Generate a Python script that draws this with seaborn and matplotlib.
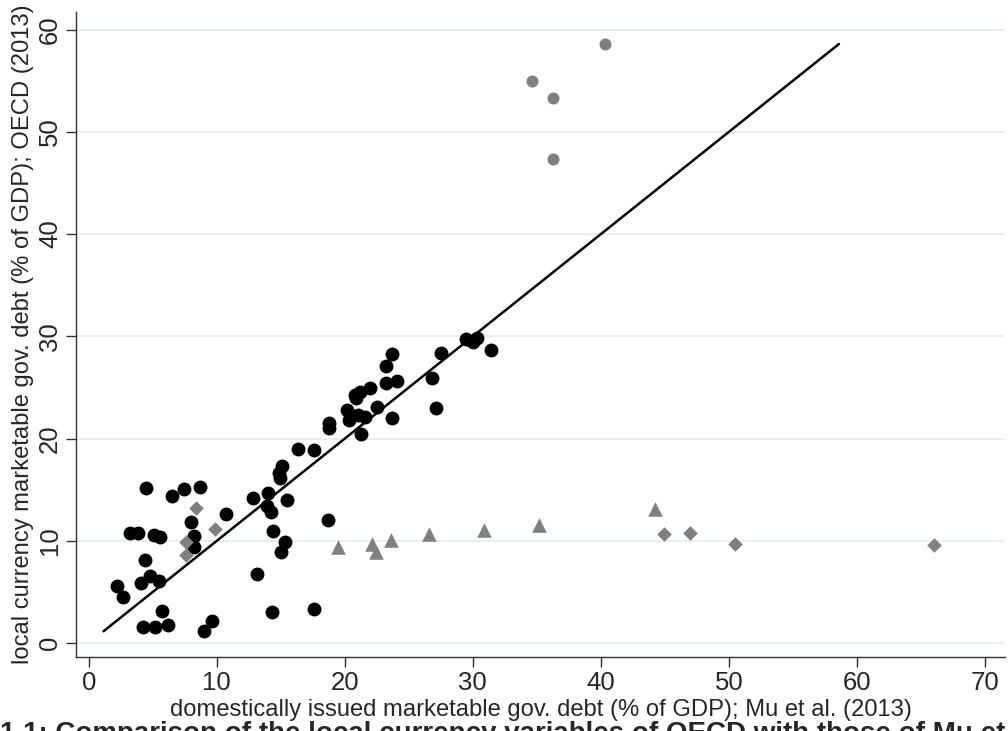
import numpy as np
import pandas as pd
import seaborn as sns
import matplotlib
matplotlib.use("Agg")
import matplotlib.pyplot as plt

# ---- data ----
black_x = [2.2, 2.7, 3.2, 3.85, 4.1, 4.4, 4.45, 4.8, 5.1, 5.55, 5.45, 5.7, 4.2, 5.2, 6.2,
           6.5, 7.45, 8.0, 8.2, 8.2, 8.7, 9.0, 9.6, 10.7, 12.8, 13.1, 13.9, 14.0, 14.2, 14.3,
           14.4, 14.85, 14.9, 15.0, 15.1, 15.3, 15.5, 16.35, 17.6, 17.6, 18.7, 18.8, 18.8,
           20.2, 20.3, 20.8, 20.9, 21.0, 21.2, 21.25, 21.6, 21.95, 22.55, 23.2, 23.25, 23.7,
           23.7, 24.1, 26.8, 27.1, 27.5, 29.5, 30.0, 30.3, 31.4]
black_y = [5.6, 4.5, 10.8, 10.8, 5.9, 8.1, 15.2, 6.6, 10.6, 10.4, 6.1, 3.1, 1.6, 1.6, 1.8,
           14.4, 15.05, 11.8, 10.45, 9.4, 15.25, 1.15, 2.15, 12.6, 14.2, 6.8, 13.4, 14.7, 12.8, 3.0,
           11.0, 16.6, 16.1, 8.9, 17.3, 9.9, 14.0, 19.0, 18.9, 3.3, 12.0, 21.5, 21.05,
           22.8, 21.8, 24.3, 24.0, 22.3, 24.6, 20.4, 22.1, 24.9, 23.1, 25.4, 27.1, 28.3,
           22.0, 25.6, 25.9, 23.0, 28.4, 29.7, 29.4, 29.8, 28.7]

gray_circle_x = [40.3, 34.6, 36.3, 36.3]
gray_circle_y = [58.6, 55.0, 53.3, 47.3]

triangle_x = [19.5, 22.1, 22.4, 23.6, 26.6, 30.9, 35.2, 44.2]
triangle_y = [9.4, 9.65, 8.9, 10.1, 10.65, 11.1, 11.5, 13.1]

diamond_x = [7.6, 7.6, 8.36, 9.85, 44.9, 47.0, 50.5, 66.0]
diamond_y = [8.6, 9.85, 13.2, 11.2, 10.7, 10.8, 9.65, 9.6]

x_ticks = [0, 10, 20, 30, 40, 50, 60, 70]
y_ticks = [0, 10, 20, 30, 40, 50, 60]

x_label = "domestically issued marketable gov. debt (% of GDP); Mu et al. (2013)"
y_label = "local currency marketable gov. debt (% of GDP); OECD (2013)"
caption = "1.1: Comparison of the local currency variables of OECD with those of Mu et al. (2013)"

# ---- plotting ----
sns.set_theme(style="white")
plt.rcParams['font.family'] = ['Liberation Sans', 'DejaVu Sans']

fig = plt.figure(figsize=(10.08, 7.31), dpi=100)
ax = fig.add_axes([0.0754, 0.1012, 0.922, 0.882])

grid_col = "#e6eef1"
for yt in y_ticks:
    ax.axhline(yt, color=grid_col, lw=1.3, zorder=0)

all_y = black_y + gray_circle_y + triangle_y + diamond_y
lo, hi = min(all_y), max(all_y)
line_df = pd.DataFrame({"x": [lo, hi], "y": [lo, hi]})
sns.lineplot(data=line_df, x="x", y="y", color="black", lw=1.8, ax=ax, zorder=3)

gray = "#808080"
sns.scatterplot(x=black_x, y=black_y, marker="o", s=100, color="black", linewidth=0, ax=ax, zorder=4)
sns.scatterplot(x=gray_circle_x, y=gray_circle_y, marker="o", s=75, color=gray, linewidth=0, ax=ax, zorder=4)
sns.scatterplot(x=triangle_x, y=triangle_y, marker="^", s=110, color=gray, linewidth=0, ax=ax, zorder=4)
sns.scatterplot(x=diamond_x, y=diamond_y, marker="D", s=55, color=gray, linewidth=0, ax=ax, zorder=4)

ax.set_xlim(-1.0, 71.6)
ax.set_ylim(-1.37, 61.7)
ax.set_xticks(x_ticks)
ax.set_yticks(y_ticks)
ax.set_yticklabels([str(v) for v in y_ticks], rotation=90, va="center")
ax.tick_params(axis="both", direction="out", length=7, width=1, color="#333333",
               labelsize=18.5, pad=3, bottom=True, left=True)
for side in ["top", "right"]:
    ax.spines[side].set_visible(False)
for side in ["left", "bottom"]:
    ax.spines[side].set_color("#333333")
    ax.spines[side].set_linewidth(1.0)

ax.set_xlabel(x_label, fontsize=17.1, labelpad=3)
ax.set_ylabel(y_label, fontsize=17.1, labelpad=3)

fig.text(0.0, 1.0 - 721 / 731, caption, fontsize=20, fontweight="bold", ha="left", va="top")

fig.savefig("out.png", dpi=100)
